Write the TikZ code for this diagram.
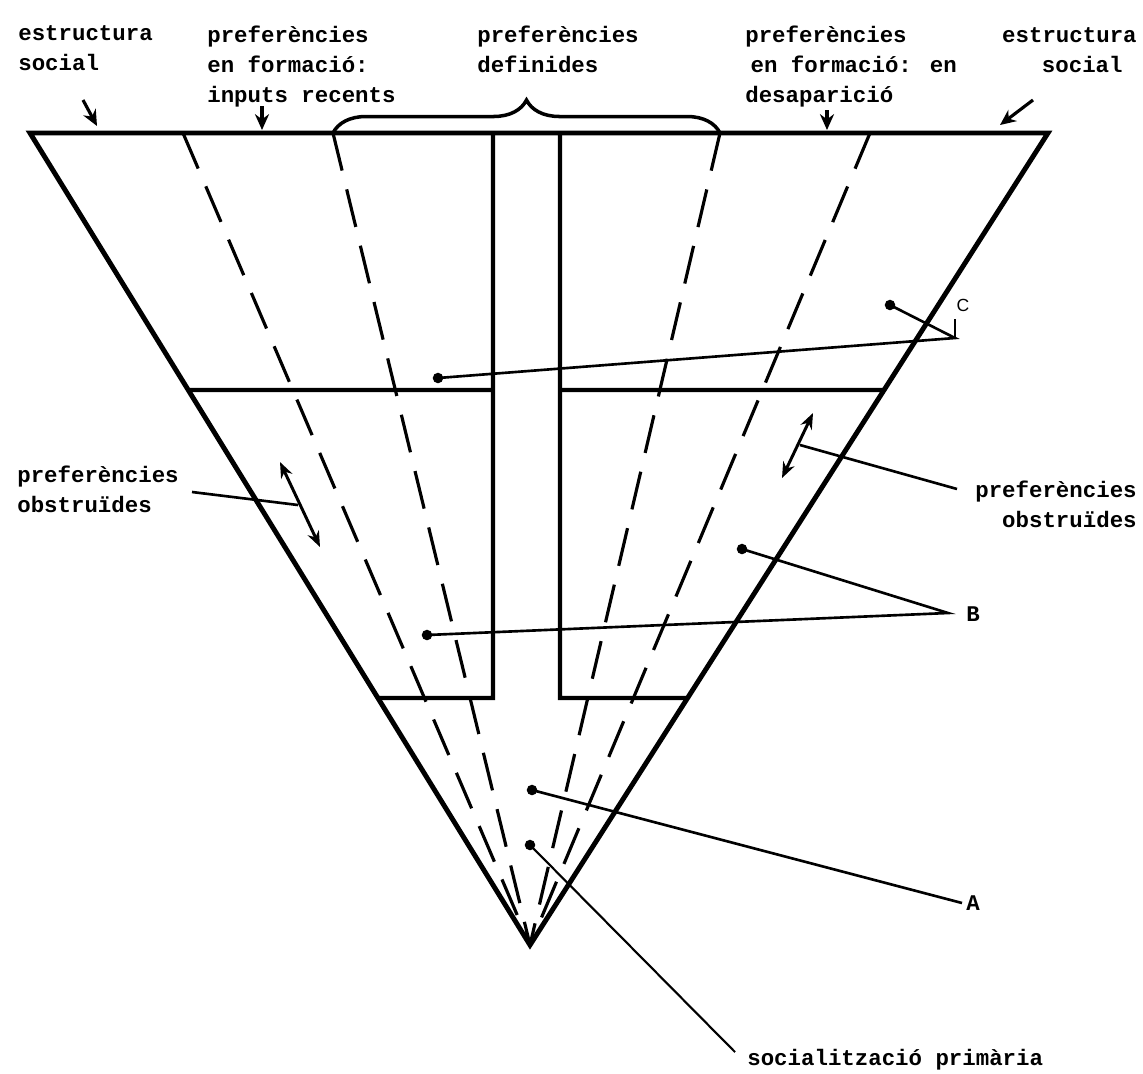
\documentclass[tikz,border=0pt]{standalone}
\usepackage{fontspec}
\newfontfamily\typew{Liberation Mono}
\newfontfamily\smallsans{Liberation Sans}
\usetikzlibrary{arrows.meta,decorations.pathreplacing,calc}
\begin{document}
\begin{tikzpicture}[x=0.02cm,y=-0.02cm,
  main/.style={line width=2.8pt, line join=miter},
  inner/.style={line width=2.3pt},
  dashline/.style={line width=1.8pt, dash pattern=on 22pt off 11pt},
  leader/.style={line width=1.5pt},
  lbl/.style={font=\typew\bfseries\fontsize{12.75}{17}\selectfont, inner sep=0pt},
  tip/.style={-{Stealth[length=9pt,width=8pt]}, line width=1.8pt},
  dbl/.style={{Stealth[length=9pt,width=7pt]}-{Stealth[length=9pt,width=7pt]}, line width=1.7pt},
  dotmark/.style={circle, fill, inner sep=0pt, minimum size=6pt}
]
\useasboundingbox (0,0) rectangle (1143,1073);

% main triangle
\coordinate (TL) at (30,133);
\coordinate (TR) at (1048,133);
\coordinate (AP) at (530,945);
\draw[main] (TL) -- (TR) -- (AP) -- cycle;

% inner structure
\coordinate (LU) at ($(TL)!0.3165!(AP)$);
\coordinate (LL) at ($(TL)!0.6958!(AP)$);
\coordinate (RU) at ($(TR)!0.3165!(AP)$);
\coordinate (RL) at ($(TR)!0.6958!(AP)$);
\draw[inner] (LU) -- (493,390);
\draw[inner] (493,133) -- (493,698) -- (LL);
\draw[inner] (560,133) -- (560,698) -- (RL);
\draw[inner] (560,390) -- (RU);

% dashed lines
\foreach \xx in {183,333,720,870} {
  \draw[dashline] (\xx,133) -- (AP);
}

% brace
\draw[line width=2pt, decorate, decoration={brace, amplitude=0.66cm}] (333,133) -- (720,133);

% top arrows
\draw[tip] (83,100) -- (97,126);
\draw[tip] (262,106) -- (262,130);
\draw[tip] (827,110) -- (827,130);
\draw[tip] (1033,100) -- (1000,125);

% labels
\node[lbl, anchor=base west, align=left] (es1) at (18,70) {estructura\\social};
\node[lbl, anchor=base west, align=left] (pf1) at (207,102) {preferències\\en formació:\\inputs recents};
\node[lbl, anchor=base west, align=left] (pd) at (477,72) {preferències\\definides};
\node[lbl, anchor=base west, align=left] (pf2) at (745,102) {preferències\\\hspace*{3pt}en formació: en\\desaparició};
\node[lbl, anchor=base east, align=right] (es2) at (1137,72) {estructura\\social\hspace*{8pt}};
\node[lbl, anchor=base west, align=left] (po1) at (17,512) {preferències\\obstruïdes};
\node[lbl, anchor=base east, align=right] (po2) at (1137,527) {preferències\\obstruïdes};
\node[lbl, anchor=base west] (lB) at (966,621) {B};
\node[lbl, anchor=base west] (lA) at (966,910) {A};
\node[font=\smallsans\fontsize{10}{12}\selectfont, inner sep=0pt] (lC) at (963,305) {C};
\node[lbl, anchor=base west] (soc) at (747,1065) {socialització primària};

% leader end points
\coordinate (cJ) at (955,338);
\coordinate (cT) at (955,319);
\coordinate (bJ) at (948,613);
\coordinate (aJ) at (962,903);
\coordinate (sJ) at (735,1052);

% dots
\node[dotmark] (dC1) at (438,378) {};
\node[dotmark] (dC2) at (890,305) {};
\node[dotmark] (dB1) at (742,549) {};
\node[dotmark] (dB2) at (427,635) {};
\node[dotmark] (dA) at (532,790) {};
\node[dotmark] (dS) at (530,845) {};

% leaders
\draw[leader] (dC1.center) -- (cJ) -- (dC2.center);
\draw[leader] (cJ) -- (cT);
\draw[leader] (dB1.center) -- (bJ) -- (dB2.center);
\draw[leader] (dA.center) -- (aJ);
\draw[leader, line width=1.2pt] (dS.center) -- (sJ);

% obstructed preferences
\coordinate (lo1) at (280,462);
\coordinate (lo2) at (320,547);
\draw[dbl] (lo1) -- (lo2);
\draw[leader] (192,492) -- (298,505);
\coordinate (ro1) at (813,413);
\coordinate (ro2) at (782,478);
\draw[dbl] (ro1) -- (ro2);
\draw[leader] (800,445) -- (957,489);
\end{tikzpicture}
\end{document}
